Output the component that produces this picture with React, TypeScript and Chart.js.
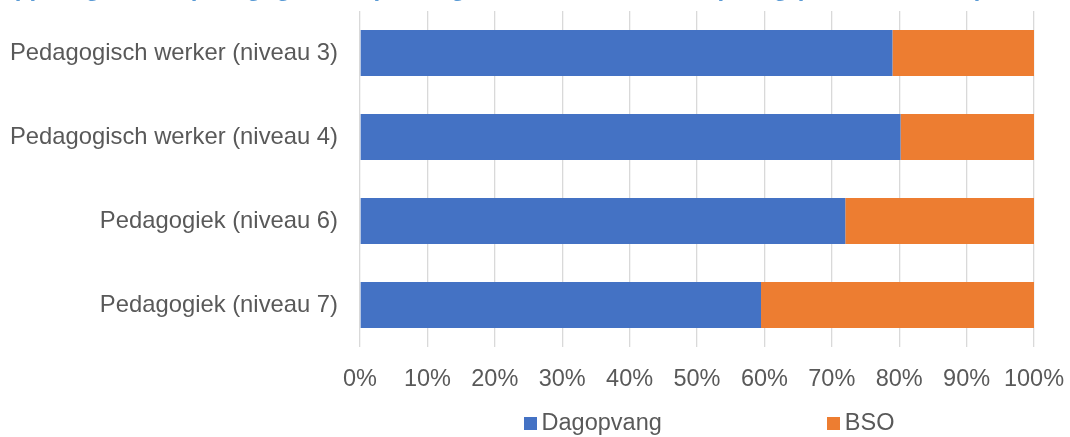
import React, { useEffect, useRef } from "react";
import { Chart, registerables } from "chart.js";

Chart.register(...registerables);

const categories = [
  "Pedagogisch werker (niveau 3)",
  "Pedagogisch werker (niveau 4)",
  "Pedagogiek (niveau 6)",
  "Pedagogiek (niveau 7)",
];
const seriesNames = ["Dagopvang", "BSO"];
const dagopvang = [79, 80.2, 72, 59.5];
const bso = [21, 19.8, 28, 40.5];
const xTickValues = [0, 10, 20, 30, 40, 50, 60, 70, 80, 90, 100];
const titleText =
  "Koppeling tussen pedagogische opleiding en werk in de kinderopvang (naar werksoort)";

const FONT = '"Liberation Sans", Arial, sans-serif';
const FS = 23.5;
const TEXT_COLOR = "#595959";
const COLORS = ["#4472C4", "#ED7D31"];

const titlePlugin = {
  id: "clippedTitle",
  afterDraw(chart: any) {
    const c = chart.ctx;
    c.save();
    c.font = `bold 24px ${FONT}`;
    c.fillStyle = "#5B9BD5";
    c.textAlign = "right";
    c.textBaseline = "alphabetic";
    c.fillText(titleText, 983, -4);
    c.restore();
  },
};

const legendPlugin = {
  id: "bottomLegend",
  afterDraw(chart: any) {
    const c = chart.ctx;
    const area = chart.chartArea;
    c.save();
    c.font = `${FS}px ${FONT}`;
    const box = 13;
    const boxGap = 5;
    const itemGap = 165;
    const items = chart.data.datasets.map((ds: any) => ({
      label: ds.label as string,
      color: ds.backgroundColor as string,
      w: box + boxGap + c.measureText(ds.label).width,
    }));
    const total =
      items.reduce((a: number, it: any) => a + it.w, 0) + itemGap * (items.length - 1);
    let x = (area.left + area.right) / 2 + 12 - total / 2;
    const y = 423;
    c.textBaseline = "middle";
    c.textAlign = "left";
    for (const it of items) {
      c.fillStyle = it.color;
      c.fillRect(Math.round(x), Math.round(y - box / 2), box, box);
      c.fillStyle = TEXT_COLOR;
      c.fillText(it.label, x + box + boxGap, y + 1);
      x += it.w + itemGap;
    }
    c.restore();
  },
};

export default function App() {
  const ref = useRef<HTMLCanvasElement>(null);

  useEffect(() => {
    document.body.style.margin = "0";
    const canvas = ref.current;
    if (!canvas) return;
    const chart = new Chart(canvas, {
      type: "bar",
      data: {
        labels: categories,
        datasets: [
          {
            label: seriesNames[0],
            data: dagopvang,
            backgroundColor: COLORS[0],
            borderWidth: 0,
            categoryPercentage: 1,
            barPercentage: 0.55,
          },
          {
            label: seriesNames[1],
            data: bso,
            backgroundColor: COLORS[1],
            borderWidth: 0,
            categoryPercentage: 1,
            barPercentage: 0.55,
          },
        ],
      },
      options: {
        indexAxis: "y",
        animation: false,
        responsive: false,
        devicePixelRatio: 1,
        layout: { padding: { top: 11, right: 36, left: 0, bottom: 0 } },
        scales: {
          x: {
            stacked: true,
            min: 0,
            max: 100,
            afterBuildTicks: (s: any) => {
              s.ticks = xTickValues.map((v) => ({ value: v }));
            },
            ticks: {
              callback: (v: any) => `${v}%`,
              color: TEXT_COLOR,
              font: { family: FONT, size: FS },
              padding: 18,
              maxRotation: 0,
              autoSkip: false,
            },
            grid: { color: "#D9D9D9", lineWidth: 1.3, drawTicks: false },
            border: { display: false },
            afterFit: (s: any) => {
              s.height = 90;
              s.paddingLeft = 0;
              s.paddingRight = 0;
            },
          },
          y: {
            stacked: true,
            grid: { display: false, drawTicks: false },
            border: { display: false },
            ticks: {
              color: TEXT_COLOR,
              font: { family: FONT, size: 23.8 },
              padding: 22,
              autoSkip: false,
            },
            afterFit: (s: any) => {
              s.width = 360;
              s.paddingTop = 0;
              s.paddingBottom = 0;
            },
          },
        },
        plugins: {
          legend: { display: false },
          title: { display: false },
          tooltip: { enabled: false },
        },
      },
      plugins: [titlePlugin, legendPlugin],
    });
    return () => chart.destroy();
  }, []);

  return (
    <canvas
      ref={ref}
      width={1070}
      height={437}
      style={{ display: "block", width: 1070, height: 437 }}
    />
  );
}
